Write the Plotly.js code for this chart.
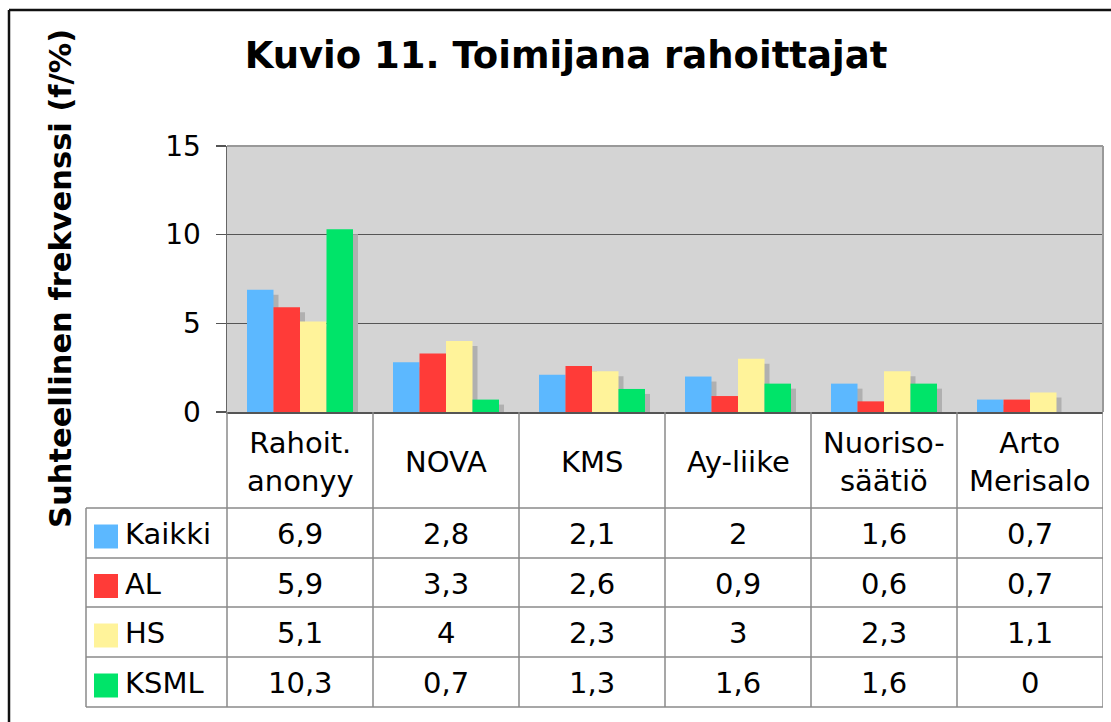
<!DOCTYPE html>
<html>
<head>
<meta charset="utf-8">
<script src="https://cdn.plot.ly/plotly-3.0.1.min.js"></script>
<style>
  html, body { margin: 0; padding: 0; background: #ffffff; }
  #chart { width: 1111px; height: 722px; }
</style>
</head>
<body>
<div id="chart"></div>
<script>
// ---- Data ----
const categories = ['Rahoit.<br>anonyy', 'NOVA', 'KMS', 'Ay-liike', 'Nuoriso-<br>säätiö', 'Arto<br>Merisalo'];
const seriesNames = ['Kaikki', 'AL', 'HS', 'KSML'];
const kaikki = [6.9, 2.8, 2.1, 2, 1.6, 0.7];
const al     = [5.9, 3.3, 2.6, 0.9, 0.6, 0.7];
const hs     = [5.1, 4, 2.3, 3, 2.3, 1.1];
const ksml   = [10.3, 0.7, 1.3, 1.6, 1.6, 0];
const yTicks = [0, 5, 10, 15];
const titleText = 'Kuvio 11. Toimijana rahoittajat';
const yTitleText = 'Suhteellinen frekvenssi (f/%)';

// ---- Styling ----
const seriesValues = [kaikki, al, hs, ksml];
const colors = ['#5cb8ff', '#ff3b38', '#fff39a', '#00e469'];
const FONT = 'DejaVu Sans, Verdana, sans-serif';

// Pixel geometry of the plot area
const W = 1111, H = 722;
const L = 227, R = 1103, T = 146, B = 412;
const plotW = R - L, plotH = B - T;
const px2paperX = p => (p - L) / plotW;
const px2paperY = p => (B - p) / plotH;

// Bar geometry (category units)
const barW = 0.1815;
const firstOff = -0.363;
const shadowDx = 5 / (plotW / categories.length);
const shadowDy = 5 / plotH * 15;

const traces = [];
// shadows first
seriesValues.forEach((vals, i) => {
  traces.push({
    type: 'bar', x: categories, y: vals,
    base: -shadowDy,
    offset: firstOff + i * barW + shadowDx, width: barW,
    marker: { color: '#b0b0b0', line: { width: 0 } },
    hoverinfo: 'skip', showlegend: false
  });
});
seriesValues.forEach((vals, i) => {
  traces.push({
    type: 'bar', x: categories, y: vals, name: seriesNames[i],
    offset: firstOff + i * barW, width: barW,
    marker: { color: colors[i], line: { width: 0 } },
    showlegend: false
  });
});

// ---- Data table below the plot ----
const rowLines = [508, 558, 607, 657, 707];
const headerCenter = (B + rowLines[0]) / 2 + 2;
const rowCenters = [];
for (let r = 0; r < 4; r++) rowCenters.push((rowLines[r] + rowLines[r + 1]) / 2);
const lineStyle = { color: '#8a8a8a', width: 1.5 };

const shapes = [];
// horizontal table lines
rowLines.forEach(p => {
  shapes.push({ type: 'line', xref: 'paper', yref: 'paper',
    x0: px2paperX(86), x1: 1, y0: px2paperY(p), y1: px2paperY(p), line: lineStyle });
});
// legend column left edge
shapes.push({ type: 'line', xref: 'paper', yref: 'paper',
  x0: px2paperX(86), x1: px2paperX(86), y0: px2paperY(rowLines[0]), y1: px2paperY(rowLines[4]), line: lineStyle });
// left edge of first category column
shapes.push({ type: 'line', xref: 'paper', yref: 'paper',
  x0: 0, x1: 0, y0: 0, y1: px2paperY(rowLines[4]), line: lineStyle });
// category column boundaries
categories.forEach((c, i) => {
  shapes.push({ type: 'line', xref: 'x', yref: 'paper',
    x0: i + 0.5, x1: i + 0.5, y0: 0, y1: px2paperY(rowLines[4]), line: lineStyle });
});
// legend colour squares
seriesNames.forEach((n, i) => {
  const c = rowCenters[i] + 3.5;
  shapes.push({ type: 'rect', xref: 'paper', yref: 'paper',
    x0: px2paperX(94), x1: px2paperX(118), y0: px2paperY(c - 12), y1: px2paperY(c + 12),
    fillcolor: colors[i], line: { width: 0 } });
});
// plot area top & right border
shapes.push({ type: 'line', xref: 'paper', yref: 'paper', x0: 0, x1: 1, y0: 1, y1: 1,
  line: { color: '#999999', width: 2 } });
shapes.push({ type: 'line', xref: 'paper', yref: 'paper', x0: 1, x1: 1, y0: 0, y1: 1,
  line: { color: '#999999', width: 2 } });
// outer frame (left & top)
shapes.push({ type: 'line', xref: 'paper', yref: 'paper',
  x0: px2paperX(9), x1: px2paperX(W + 5), y0: px2paperY(10), y1: px2paperY(10),
  line: { color: '#111111', width: 2.5 } });
shapes.push({ type: 'line', xref: 'paper', yref: 'paper',
  x0: px2paperX(9), x1: px2paperX(9), y0: px2paperY(10), y1: px2paperY(H + 5),
  line: { color: '#111111', width: 2.5 } });

const fmt = v => String(v).replace('.', ',');
const annotations = [];
// header labels
categories.forEach((c, i) => {
  annotations.push({ xref: 'x', yref: 'paper', x: i, y: px2paperY(headerCenter),
    text: c, showarrow: false, xanchor: 'center', yanchor: 'middle',
    font: { family: FONT, size: 29, color: '#000' } });
});
// value cells & legend labels
seriesValues.forEach((vals, r) => {
  annotations.push({ xref: 'paper', yref: 'paper', x: px2paperX(123), y: px2paperY(rowCenters[r] + 1),
    text: seriesNames[r], showarrow: false, xanchor: 'left', yanchor: 'middle',
    font: { family: FONT, size: 29, color: '#000' } });
  vals.forEach((v, i) => {
    annotations.push({ xref: 'x', yref: 'paper', x: i, y: px2paperY(rowCenters[r] + 1),
      text: fmt(v), showarrow: false, xanchor: 'center', yanchor: 'middle',
      font: { family: FONT, size: 29, color: '#000' } });
  });
});
// y-axis title
annotations.push({ xref: 'paper', yref: 'paper', x: px2paperX(60), y: 0.5,
  text: yTitleText, textangle: -90, showarrow: false, xanchor: 'center', yanchor: 'middle',
  font: { family: FONT, size: 30.5, color: '#000', weight: 'bold' } });

const layout = {
  width: W, height: H,
  margin: { l: L, r: W - R, t: T, b: H - B, pad: 0 },
  paper_bgcolor: '#ffffff',
  plot_bgcolor: '#d4d4d4',
  barmode: 'overlay',
  showlegend: false,
  title: {
    text: titleText,
    font: { family: FONT, size: 37, color: '#000', weight: 'bold' },
    xref: 'container', x: 566 / W, xanchor: 'center',
    yref: 'container', y: 1 - 55 / H, yanchor: 'middle'
  },
  xaxis: {
    type: 'category', range: [-0.5, categories.length - 0.5],
    showticklabels: false, ticks: '', showgrid: false, zeroline: false,
    showline: true, linecolor: '#555555', linewidth: 1.5, fixedrange: true
  },
  yaxis: {
    range: [0, 15], tickvals: yTicks, ticktext: yTicks.map(String),
    ticks: 'outside', ticklen: 10, tickcolor: '#555555', tickwidth: 1.5,
    ticklabelstandoff: 9,
    tickfont: { family: FONT, size: 28, color: '#000' },
    showgrid: true, gridcolor: '#555555', gridwidth: 1.2,
    zeroline: false, showline: true, linecolor: '#666666', linewidth: 1.5,
    fixedrange: true
  },
  shapes: shapes,
  annotations: annotations
};

Plotly.newPlot('chart', traces, layout, { staticPlot: true, displayModeBar: false });
</script>
</body>
</html>
